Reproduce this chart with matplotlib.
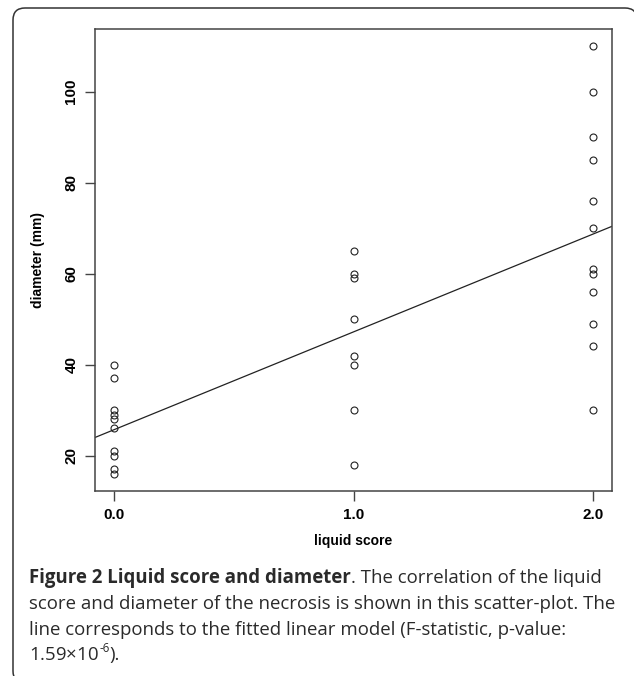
import numpy as np
import matplotlib
matplotlib.use("Agg")
import matplotlib.pyplot as plt
from matplotlib.path import Path
from matplotlib.patches import PathPatch

plt.rcParams['mathtext.fontset'] = 'custom'
plt.rcParams['mathtext.rm'] = 'Open Sans'
plt.rcParams['mathtext.it'] = 'Open Sans:italic'
plt.rcParams['mathtext.bf'] = 'Open Sans:bold'

# ---- data ----
score0 = [40, 37, 30, 29, 28, 26, 21, 20, 17, 16]
score1 = [65, 60, 59, 50, 42, 40, 30, 18]
score2 = [110, 100, 90, 85, 76, 70, 61, 60, 56, 49, 44, 30]
x_ticks = [0.0, 1.0, 2.0]
x_tick_labels = ["0.0", "1.0", "2.0"]
y_ticks = [20, 40, 60, 80, 100]
y_tick_labels = ["20", "40", "60", "80", "100"]

x = np.array([0.0] * len(score0) + [1.0] * len(score1) + [2.0] * len(score2))
y = np.array(score0 + score1 + score2, dtype=float)

W, H = 634, 676
fig = plt.figure(figsize=(W / 100, H / 100), dpi=100)
fig.patch.set_facecolor('white')

# rounded frame (right side and bottom run off the image)
L, T, R, B, rad = 13.0, 8.0, 637.0, 683.0, 12.0
def P(px, py):
    return (px / W, 1 - py / H)
verts = [P(R, T + rad), P(R, T), P(R - rad, T),
         P(L + rad, T), P(L, T), P(L, T + rad),
         P(L, B - rad), P(L, B), P(L + rad, B)]
codes = [Path.MOVETO, Path.CURVE3, Path.CURVE3,
         Path.LINETO, Path.CURVE3, Path.CURVE3,
         Path.LINETO, Path.CURVE3, Path.CURVE3]
frame = PathPatch(Path(verts, codes), transform=fig.transFigure, fill=False,
                  edgecolor='#333333', linewidth=1.1, clip_on=False)
fig.patches.append(frame)

ax = fig.add_axes([95 / W, 1 - 491 / H, (612 - 95) / W, (491 - 29) / H])

ax.plot(x, y, linestyle='none', marker='o', markersize=5, markerfacecolor='none',
        markeredgecolor='#222222', markeredgewidth=0.8)

xmin, xmax = x.min(), x.max()
xr = (xmax - xmin) * 0.04
ymin, ymax = y.min(), y.max()
yr = (ymax - ymin) * 0.04
ax.set_xlim(xmin - xr, xmax + xr)
ax.set_ylim(ymin - yr, ymax + yr)

slope, intercept = np.polyfit(x, y, 1)
xl = np.array([xmin - xr, xmax + xr])
ax.plot(xl, intercept + slope * xl, color='#222222', linewidth=0.9)

for s in ax.spines.values():
    s.set_linewidth(1.1)
    s.set_color('#444444')

ax.set_xticks(x_ticks)
ax.set_xticklabels(x_tick_labels, fontsize=11, fontweight='bold', family='Liberation Sans')
ax.set_yticks(y_ticks)
ax.set_yticklabels(y_tick_labels, fontsize=11, fontweight='bold', family='Liberation Sans',
                   rotation=90, va='center')
ax.tick_params(direction='out', length=7, width=1.0, color='#444444', pad=5)

ax.set_xlabel("liquid score", fontsize=10, fontweight='bold', family='Liberation Sans',
              labelpad=9)
ax.set_ylabel("diameter (mm)", fontsize=10, fontweight='bold', family='Liberation Sans',
              labelpad=14)

# caption
fs = 13.4
cap_kw = dict(fontsize=fs, family='Open Sans', color='#2a2a2a')
x0 = 29 / W
t1 = fig.text(x0, 1 - 583 / H, "Figure 2 Liquid score and diameter", fontweight='bold',
              va='baseline', ha='left', **cap_kw)
fig.canvas.draw()
r = fig.canvas.get_renderer()
bb = t1.get_window_extent(r)
fig.text(bb.x1 / W, 1 - 583 / H, ". The correlation of the liquid", va='baseline',
         ha='left', **cap_kw)
fig.text(x0, 1 - 609 / H, "score and diameter of the necrosis is shown in this scatter-plot. The",
         va='baseline', ha='left', **cap_kw)
fig.text(x0, 1 - 635 / H, "line corresponds to the fitted linear model (F-statistic, p-value:",
         va='baseline', ha='left', **cap_kw)
t4 = fig.text(x0, 1 - 660 / H, r"1.59$\times$10", va='baseline', ha='left', **cap_kw)
fig.canvas.draw()
bb4 = t4.get_window_extent(r)
t5 = fig.text(bb4.x1 / W + 0.5 / W, 1 - 652 / H, "-6", va='baseline', ha='left',
              fontsize=fs * 0.62, family='Open Sans', color='#2a2a2a')
fig.canvas.draw()
bb5 = t5.get_window_extent(r)
fig.text(bb5.x1 / W, 1 - 660 / H, ").", va='baseline', ha='left', **cap_kw)

fig.savefig("out.png", dpi=100, facecolor='white')
